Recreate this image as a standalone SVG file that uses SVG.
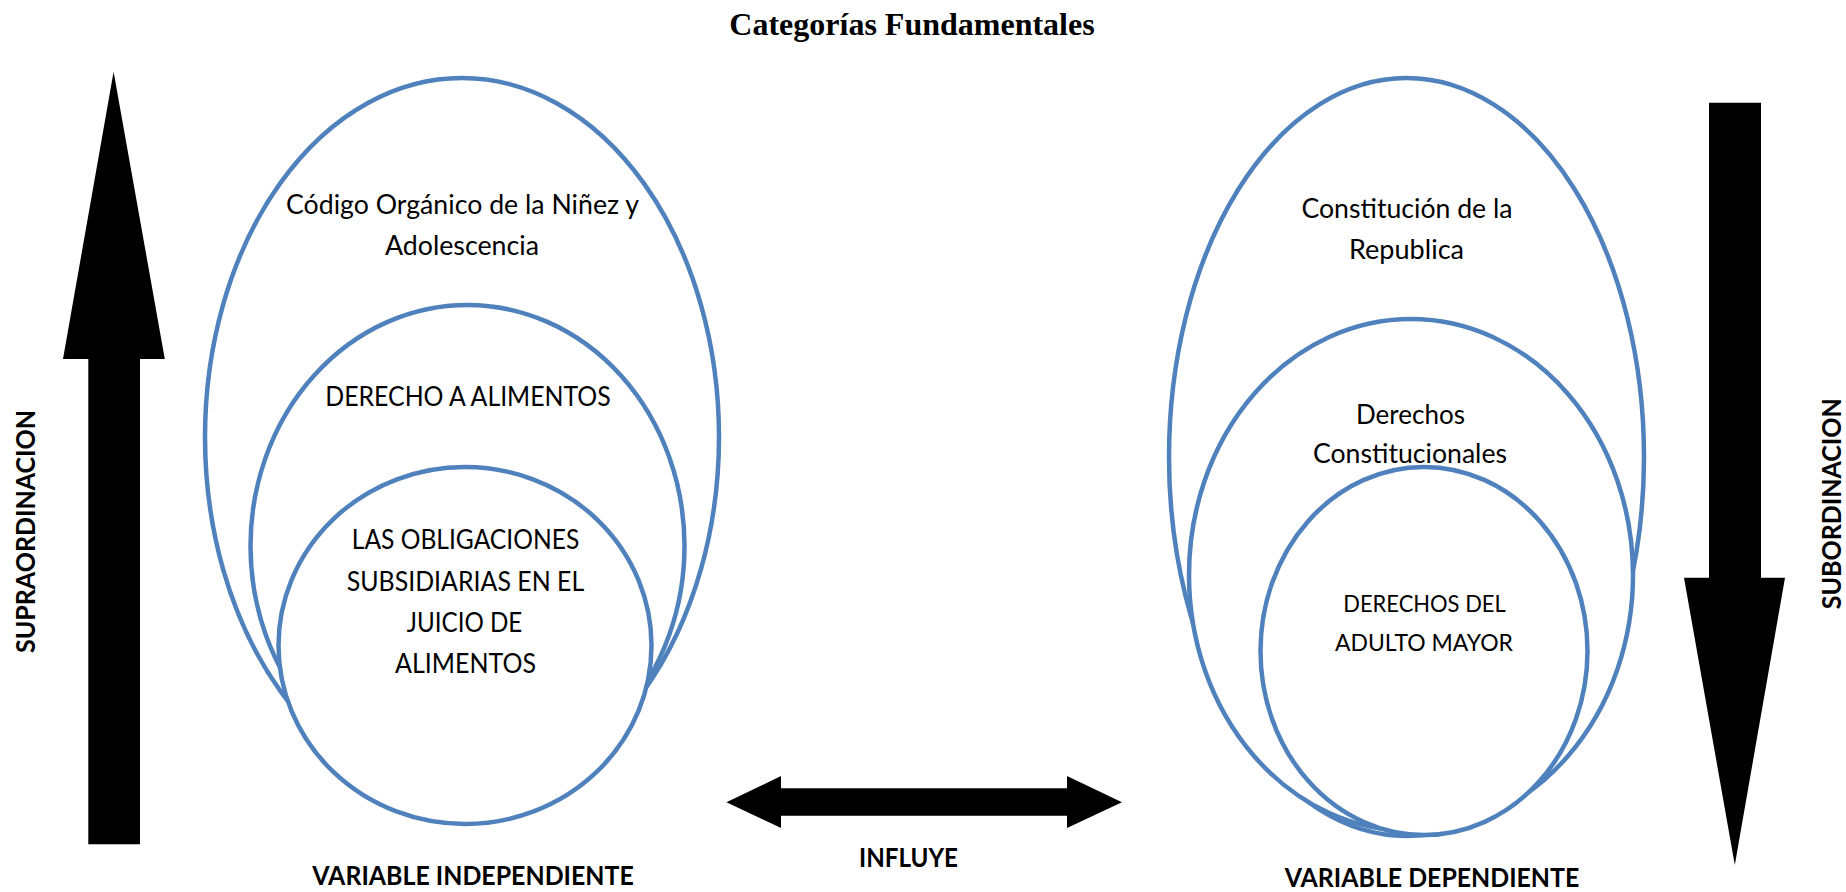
<svg xmlns="http://www.w3.org/2000/svg" width="1846" height="892" viewBox="0 0 1846 892">
  <style>
    .bg { fill: #ffffff; }
    .ring { fill: #ffffff; stroke: #4F81BD; stroke-width: 4.5; }
    .lbl { font-family: Lato, "Liberation Sans", sans-serif; font-size: 27px; fill: #000000; text-anchor: middle; }
    .cap { font-size: 26px; }
    .sm { font-size: 24px; }
    .bold { font-family: Lato, "Liberation Sans", sans-serif; font-size: 26px; font-weight: bold; fill: #000000; text-anchor: middle; }
    .title { font-family: "Liberation Serif", serif; font-size: 32px; font-weight: bold; fill: #000000; text-anchor: middle; }
    .arrow { fill: #000000; }
  </style>
  <rect class="bg" x="0" y="0" width="1846" height="892"/>
  <text class="title" x="912" y="35">Categorías Fundamentales</text>

  <g id="left-outer">
    <ellipse class="ring" cx="462" cy="437" rx="257" ry="359"/>
    <text class="lbl" x="462.5" y="214" textLength="353" lengthAdjust="spacingAndGlyphs">Código Orgánico de la Niñez y</text>
    <text class="lbl" x="462" y="255" textLength="154" lengthAdjust="spacingAndGlyphs">Adolescencia</text>
  </g>
  <g id="left-middle">
    <ellipse class="ring" cx="467.5" cy="546" rx="217" ry="241"/>
    <text class="lbl cap" x="468" y="406" textLength="285.5" lengthAdjust="spacingAndGlyphs">DERECHO A ALIMENTOS</text>
  </g>
  <g id="left-inner">
    <ellipse class="ring" cx="465" cy="645.5" rx="186.5" ry="178.5"/>
    <text class="lbl cap" x="465.5" y="549" textLength="227.5" lengthAdjust="spacingAndGlyphs">LAS OBLIGACIONES</text>
    <text class="lbl cap" x="465.5" y="590.5" textLength="237.5" lengthAdjust="spacingAndGlyphs">SUBSIDIARIAS EN EL</text>
    <text class="lbl cap" x="464.5" y="631.5" textLength="115.5" lengthAdjust="spacingAndGlyphs">JUICIO DE</text>
    <text class="lbl cap" x="465.5" y="673" textLength="141" lengthAdjust="spacingAndGlyphs">ALIMENTOS</text>
  </g>

  <g id="right-outer">
    <ellipse class="ring" cx="1406.5" cy="457" rx="237.5" ry="379"/>
    <text class="lbl" x="1407" y="217.5" textLength="211" lengthAdjust="spacingAndGlyphs">Constitución de la</text>
    <text class="lbl" x="1406.5" y="259" textLength="115" lengthAdjust="spacingAndGlyphs">Republica</text>
  </g>
  <g id="right-middle">
    <ellipse class="ring" cx="1411" cy="575" rx="222" ry="256"/>
    <text class="lbl" x="1410.5" y="424" textLength="109" lengthAdjust="spacingAndGlyphs">Derechos</text>
    <text class="lbl" x="1410" y="463" textLength="194" lengthAdjust="spacingAndGlyphs">Constitucionales</text>
  </g>
  <g id="right-inner">
    <ellipse class="ring" cx="1424" cy="651" rx="163.5" ry="184"/>
    <text class="lbl sm" x="1424.5" y="612" textLength="162.5" lengthAdjust="spacingAndGlyphs">DERECHOS DEL</text>
    <text class="lbl sm" x="1424" y="650.5" textLength="178" lengthAdjust="spacingAndGlyphs">ADULTO MAYOR</text>
  </g>

  <g id="connectors">
    <polygon id="arrow-up" class="arrow" points="113.6,71.7 164.8,359 140,359 140,844.3 88.3,844.3 88.3,359 63,359"/>
    <polygon id="arrow-down" class="arrow" points="1709,102.7 1761,102.7 1761,577.7 1785,577.7 1734.8,865 1684,577.7 1709,577.7"/>
    <polygon id="arrow-both" class="arrow" points="726.4,802.3 781,776 781,788.3 1067,788.3 1067,776 1122,802.3 1067,828 1067,815.7 781,815.7 781,828"/>
  </g>

  <text class="bold" transform="translate(35,531.5) rotate(-90)" textLength="243" lengthAdjust="spacingAndGlyphs">SUPRAORDINACION</text>
  <text class="bold" transform="translate(1841,503.8) rotate(-90)" textLength="211" lengthAdjust="spacingAndGlyphs">SUBORDINACION</text>
  <text class="bold" x="908.5" y="866.5" textLength="99" lengthAdjust="spacingAndGlyphs">INFLUYE</text>
  <text class="bold" x="473" y="885" textLength="321.5" lengthAdjust="spacingAndGlyphs">VARIABLE INDEPENDIENTE</text>
  <text class="bold" x="1432" y="886.5" textLength="294.5" lengthAdjust="spacingAndGlyphs">VARIABLE DEPENDIENTE</text>
</svg>
